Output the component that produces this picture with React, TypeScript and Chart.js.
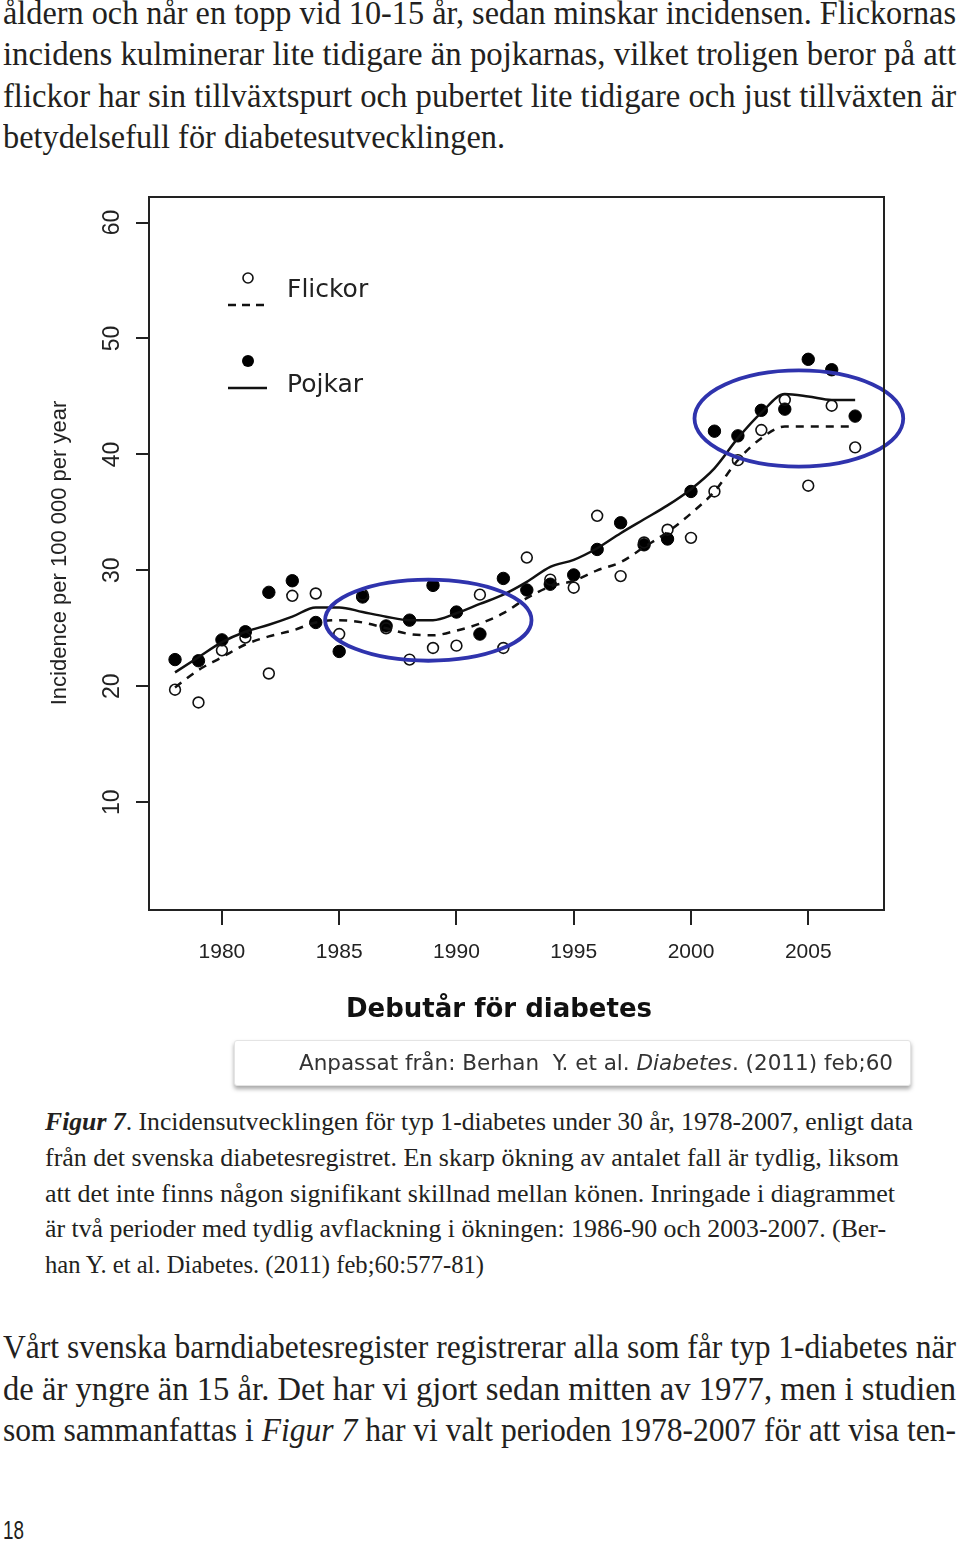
import React, { useEffect, useLayoutEffect, useRef } from "react";
import { Chart, registerables } from "chart.js";

Chart.register(...registerables);

// ---------- Data ----------
const years = [
  1978, 1979, 1980, 1981, 1982, 1983, 1984, 1985, 1986, 1987,
  1988, 1989, 1990, 1991, 1992, 1993, 1994, 1995, 1996, 1997,
  1998, 1999, 2000, 2001, 2002, 2003, 2004, 2005, 2006, 2007,
];
// Incidence per 100 000 per year, girls (open circles)
const flickorRates = [
  19.7, 18.6, 23.1, 24.2, 21.1, 27.8, 28.0, 24.5, 27.9, 25.0,
  22.3, 23.3, 23.5, 27.9, 23.3, 31.1, 29.2, 28.5, 34.7, 29.5,
  32.4, 33.5, 32.8, 36.8, 39.5, 42.1, 44.7, 37.3, 44.2, 40.6,
];
// Incidence per 100 000 per year, boys (filled dots)
const pojkarRates = [
  22.3, 22.2, 24.0, 24.7, 28.1, 29.1, 25.5, 23.0, 27.7, 25.2,
  25.7, 28.7, 26.4, 24.5, 29.3, 28.3, 28.8, 29.6, 31.8, 34.1,
  32.2, 32.7, 36.8, 42.0, 41.6, 43.8, 43.9, 48.2, 47.3, 43.3,
];
// Smoothed trends
const flickorTrend = [
  19.9, 21.4, 22.5, 23.6, 24.3, 24.8, 25.5, 25.7, 25.5, 25.0,
  24.5, 24.4, 24.8, 25.4, 26.3, 27.6, 28.6, 29.1, 30.0, 30.7,
  32.0, 33.3, 34.9, 36.8, 39.5, 41.4, 42.4, 42.4, 42.4, 42.4,
];
const pojkarTrend = [
  21.2, 22.5, 23.8, 24.7, 25.3, 26.0, 26.8, 26.8, 26.4, 26.0,
  25.7, 25.7, 26.3, 27.1, 27.9, 29.0, 30.3, 30.9, 31.9, 33.2,
  34.4, 35.6, 37.0, 38.8, 41.4, 43.6, 45.2, 45.0, 44.7, 44.7,
];
const seriesNames = ["Flickor", "Pojkar"];
const xTicks = [1980, 1985, 1990, 1995, 2000, 2005];
const yTicks = [10, 20, 30, 40, 50, 60];
const xLimits = [1976.89, 2008.23];
const yLimits = [0.7, 62.2];
const yTitle = "Incidence per 100 000 per year";
const xTitle = "Debutår för diabetes";
// Highlighted periods (ellipses) in data units: centre year, centre value, half-width (years), half-height (value)
const ellipseYears = [1988.8, 2004.6];
const ellipseValues = [25.7, 43.1];
const ellipseHalfYears = [4.4, 4.45];
const ellipseHalfValues = [3.5, 4.15];

// ---------- Text ----------
const INK = "#231f20";
const SERIF = '"Liberation Serif", "Times New Roman", serif';

function FitLine({ width, height, justify, children }: any) {
  const ref = useRef<HTMLSpanElement>(null);
  useLayoutEffect(() => {
    const el = ref.current;
    if (!el) return;
    el.style.transform = "none";
    el.style.wordSpacing = "0px";
    const w = el.getBoundingClientRect().width;
    if (w <= 0) return;
    if (w > width || !justify) {
      el.style.transform = `scaleX(${width / w})`;
    } else {
      const text = el.textContent || "";
      const spaces = (text.match(/ /g) || []).length;
      if (spaces > 0) el.style.wordSpacing = `${(width - w) / spaces}px`;
    }
  });
  return (
    <div style={{ height, lineHeight: `${height}px`, whiteSpace: "nowrap" }}>
      <span ref={ref} style={{ display: "inline-block", transformOrigin: "0 0" }}>
        {children}
      </span>
    </div>
  );
}

function ChartCanvas() {
  const ref = useRef<HTMLCanvasElement>(null);
  useEffect(() => {
    const canvas = ref.current;
    if (!canvas) return;
    const pts = (vals: number[]) => years.map((x, i) => ({ x, y: vals[i] }));

    const decor = {
      id: "decor",
      afterDatasetsDraw(chart: any) {
        const { ctx, scales } = chart;
        const xs = scales.x;
        const ys = scales.y;
        ctx.save();
        ctx.strokeStyle = "#2f33ad";
        ctx.lineWidth = 3.8;
        for (let i = 0; i < ellipseYears.length; i++) {
          const cx = xs.getPixelForValue(ellipseYears[i]);
          const cy = ys.getPixelForValue(ellipseValues[i]);
          const rx = Math.abs(xs.getPixelForValue(ellipseYears[i] + ellipseHalfYears[i]) - cx);
          const ry = Math.abs(ys.getPixelForValue(ellipseValues[i] + ellipseHalfValues[i]) - cy);
          ctx.beginPath();
          ctx.ellipse(cx, cy, rx, ry, 0, 0, Math.PI * 2);
          ctx.stroke();
        }
        ctx.restore();
      },
      afterDraw(chart: any) {
        const { ctx, chartArea, scales } = chart;
        const ys = scales.y;
        ctx.save();
        // box
        ctx.strokeStyle = "#222";
        ctx.lineWidth = 2;
        ctx.strokeRect(chartArea.left, chartArea.top, chartArea.right - chartArea.left, chartArea.bottom - chartArea.top);
        // y tick labels (rotated, R style)
        ctx.fillStyle = "#222";
        ctx.font = '23px "Liberation Sans", Arial, sans-serif';
        ctx.textAlign = "center";
        ctx.textBaseline = "middle";
        for (const v of yTicks) {
          const y = ys.getPixelForValue(v);
          ctx.save();
          ctx.translate(chartArea.left - 36, y);
          ctx.rotate(-Math.PI / 2);
          ctx.fillText(String(v), 0, 0);
          ctx.restore();
        }
        // y title
        ctx.save();
        ctx.font = '22px "Liberation Sans", Arial, sans-serif';
        ctx.translate(60, 393);
        ctx.rotate(-Math.PI / 2);
        ctx.fillText(yTitle, 0, 0);
        ctx.restore();
        // x title
        ctx.font = 'bold 26px "DejaVu Sans", Verdana, sans-serif';
        ctx.fillStyle = "#111";
        ctx.fillText(xTitle, 499, 850);
        // legend
        ctx.fillStyle = "#222";
        ctx.strokeStyle = "#111";
        ctx.lineWidth = 1.6;
        ctx.beginPath();
        ctx.arc(248, 118, 5, 0, Math.PI * 2);
        ctx.stroke();
        ctx.lineWidth = 2.5;
        ctx.setLineDash([8, 6]);
        ctx.beginPath();
        ctx.moveTo(228, 145);
        ctx.lineTo(265, 145);
        ctx.stroke();
        ctx.setLineDash([]);
        ctx.fillStyle = "#000";
        ctx.beginPath();
        ctx.arc(248, 201, 6, 0, Math.PI * 2);
        ctx.fill();
        ctx.beginPath();
        ctx.moveTo(228, 228);
        ctx.lineTo(267, 228);
        ctx.stroke();
        ctx.font = '25px "DejaVu Sans", Verdana, sans-serif';
        ctx.fillStyle = "#222";
        ctx.textAlign = "left";
        ctx.fillText(seriesNames[0], 287, 130);
        ctx.fillText(seriesNames[1], 287, 225);
        ctx.restore();
      },
    };

    const chart = new Chart(canvas, {
      type: "line",
      data: {
        datasets: [
          {
            label: seriesNames[0] + " trend",
            data: pts(flickorTrend),
            borderColor: "#111",
            borderWidth: 2.5,
            borderDash: [8, 7],
            pointRadius: 0,
            cubicInterpolationMode: "monotone",
            fill: false,
          },
          {
            label: seriesNames[1] + " trend",
            data: pts(pojkarTrend),
            borderColor: "#111",
            borderWidth: 2.5,
            pointRadius: 0,
            cubicInterpolationMode: "monotone",
            fill: false,
          },
          {
            label: seriesNames[0],
            data: pts(flickorRates),
            showLine: false,
            pointRadius: 5.4,
            pointBorderWidth: 1.6,
            pointBackgroundColor: "rgba(0,0,0,0)",
            pointBorderColor: "#111",
          },
          {
            label: seriesNames[1],
            data: pts(pojkarRates),
            showLine: false,
            pointRadius: 6.2,
            pointBorderWidth: 1,
            pointBackgroundColor: "#000",
            pointBorderColor: "#000",
          },
        ],
      },
      options: {
        animation: false,
        responsive: false,
        devicePixelRatio: 1,
        layout: { padding: { top: 37, right: 76, left: 0, bottom: 0 } },
        plugins: { legend: { display: false }, tooltip: { enabled: false } },
        scales: {
          x: {
            type: "linear",
            min: xLimits[0],
            max: xLimits[1],
            afterBuildTicks: (s: any) => {
              s.ticks = xTicks.map((value) => ({ value }));
            },
            afterFit: (s: any) => {
              s.height = 190;
            },
            grid: { drawOnChartArea: false, drawTicks: true, tickLength: 15, color: "#222", lineWidth: 2 },
            border: { display: true, color: "#222", width: 2 },
            ticks: {
              font: { family: '"Liberation Sans", Arial, sans-serif', size: 21 },
              color: "#222",
              padding: 15,
              maxRotation: 0,
              minRotation: 0,
              autoSkip: false,
              callback: (v: any) => String(v),
            },
          },
          y: {
            type: "linear",
            min: yLimits[0],
            max: yLimits[1],
            afterBuildTicks: (s: any) => {
              s.ticks = yTicks.map((value) => ({ value }));
            },
            afterFit: (s: any) => {
              s.width = 149;
            },
            grid: { drawOnChartArea: false, drawTicks: true, tickLength: 13, color: "#222", lineWidth: 2 },
            border: { display: true, color: "#222", width: 2 },
            ticks: { display: false },
          },
        },
      } as any,
      plugins: [decor],
    });
    return () => chart.destroy();
  }, []);
  return (
    <canvas
      ref={ref}
      width={960}
      height={940}
      style={{ position: "absolute", left: 0, top: 160, width: 960, height: 940, display: "block" }}
    />
  );
}

export default function App() {
  const bodyStyle = { fontFamily: SERIF, fontSize: 33, color: INK };
  return (
    <div
      style={{
        position: "absolute",
        left: 0,
        top: 0,
        width: 960,
        height: 1543,
        overflow: "hidden",
        background: "#fff",
      }}
    >
      <div style={{ position: "absolute", left: 3, top: -7, ...bodyStyle }}>
        <FitLine width={953} height={41.3} justify>
          åldern och når en topp vid 10-15 år, sedan minskar incidensen. Flickornas
        </FitLine>
        <FitLine width={953} height={41.3} justify>
          incidens kulminerar lite tidigare än pojkarnas, vilket troligen beror på att
        </FitLine>
        <FitLine width={953} height={41.3} justify>
          flickor har sin tillväxtspurt och pubertet lite tidigare och just tillväxten är
        </FitLine>
        <FitLine width={502} height={41.3}>
          betydelsefull för diabetesutvecklingen.
        </FitLine>
      </div>

      <ChartCanvas />

      <div
        style={{
          position: "absolute",
          left: 234,
          top: 1040,
          width: 677,
          height: 46,
          boxSizing: "border-box",
          background: "#fff",
          border: "1px solid #e4e4e4",
          borderRadius: 3,
          boxShadow: "0 3px 4px rgba(0,0,0,0.35)",
          fontFamily: '"DejaVu Sans", Verdana, sans-serif',
          fontSize: 21.5,
          lineHeight: "44px",
          color: "#333",
          textAlign: "right",
          paddingRight: 17,
          whiteSpace: "nowrap",
        }}
      >
        Anpassat från: Berhan&nbsp; Y. et al. <i>Diabetes</i>. (2011) feb;60
      </div>

      <div style={{ position: "absolute", left: 45, top: 1104, fontFamily: SERIF, fontSize: 26, color: INK }}>
        <FitLine width={868} height={35.75}>
          <b>
            <i>Figur 7</i>
          </b>
          . Incidensutvecklingen för typ 1-diabetes under 30 år, 1978-2007, enligt data
        </FitLine>
        <FitLine width={854} height={35.75}>
          från det svenska diabetesregistret. En skarp ökning av antalet fall är tydlig, liksom
        </FitLine>
        <FitLine width={850} height={35.75}>
          att det inte finns någon signifikant skillnad mellan könen. Inringade i diagrammet
        </FitLine>
        <FitLine width={841} height={35.75}>
          är två perioder med tydlig avflackning i ökningen: 1986-90 och 2003-2007. (Ber-
        </FitLine>
        <FitLine width={439} height={35.75}>
          han Y. et al. Diabetes. (2011) feb;60:577-81)
        </FitLine>
      </div>

      <div style={{ position: "absolute", left: 3, top: 1327, ...bodyStyle }}>
        <FitLine width={953} height={41.5} justify>
          Vårt svenska barndiabetesregister registrerar alla som får typ 1-diabetes när
        </FitLine>
        <FitLine width={953} height={41.5} justify>
          de är yngre än 15 år. Det har vi gjort sedan mitten av 1977, men i studien
        </FitLine>
        <FitLine width={953} height={41.5} justify>
          som sammanfattas i <i>Figur 7</i> har vi valt perioden 1978-2007 för att visa ten-
        </FitLine>
      </div>

      <div
        style={{
          position: "absolute",
          left: 3,
          top: 1516,
          fontFamily: '"Liberation Sans", Arial, sans-serif',
          fontSize: 25,
          color: INK,
        }}
      >
        <FitLine width={21} height={28}>
          18
        </FitLine>
      </div>
    </div>
  );
}
